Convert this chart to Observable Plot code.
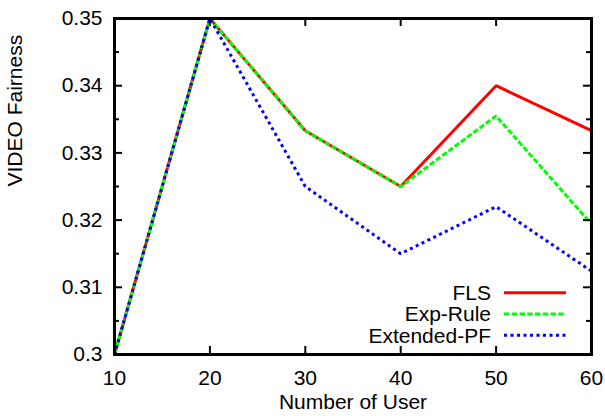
<!DOCTYPE html>
<html>
<head>
<meta charset="utf-8">
<script src="https://cdn.jsdelivr.net/npm/d3@7"></script>
<script src="https://cdn.jsdelivr.net/npm/@observablehq/plot@0.6"></script>
<style>
  html, body { margin: 0; padding: 0; background: #fff; }
  #chart svg { display: block; }
</style>
</head>
<body>
<div id="chart"></div>
<script>
// ---- data ----
const users = [10, 20, 30, 40, 50, 60];
const flsValues = [0.300, 0.350, 0.3333, 0.325, 0.340, 0.3333];
const expRuleValues = [0.300, 0.350, 0.3333, 0.325, 0.3355, 0.3194];
const extendedPfValues = [0.300, 0.350, 0.325, 0.315, 0.322, 0.3124];
const seriesNames = ["FLS", "Exp-Rule", "Extended-PF"];
const xTickValues = [10, 20, 30, 40, 50, 60];
const yTickValues = [0.30, 0.31, 0.32, 0.33, 0.34, 0.35];
const yMinorTickValues = [0.305, 0.315, 0.325, 0.335, 0.345];
const xLabel = "Number of User";
const yLabel = "VIDEO Fairness";

// ---- styles ----
const seriesColors = ["#ff0000", "#00ff00", "#0000ff"];
const seriesDash = [null, "5.5,2.25", "3,3.5"];
const lineWidth = 3;
const fontFamily = "'Liberation Sans', Arial, Helvetica, sans-serif";
const fontSize = 21;

const width = 605, height = 416;
const margin = {left: 114, right: 14, top: 18, bottom: 62};
const W = width - margin.left - margin.right;
const H = height - margin.top - margin.bottom;

const seriesValues = [flsValues, expRuleValues, extendedPfValues];
const rows = seriesNames.flatMap((name, i) =>
  users.map((u, j) => ({series: name, users: u, value: seriesValues[i][j]}))
);

const majorLen = 8, minorLen = 5, tickWidth = 2;

function legendMark(index, scales, values, dims) {
  const right = dims.width - dims.marginRight;
  const bottom = dims.height - dims.marginBottom;
  const g = d3.create("svg:g");
  seriesNames.forEach((name, i) => {
    const y = bottom - 61.3 + i * 21.3;
    g.append("text")
      .attr("x", right - 100)
      .attr("y", y)
      .attr("dy", "0.35em")
      .attr("text-anchor", "end")
      .attr("font-family", fontFamily)
      .attr("font-size", fontSize)
      .attr("fill", "#000")
      .text(name);
    g.append("line")
      .attr("x1", right - 87)
      .attr("x2", right - 25)
      .attr("y1", y)
      .attr("y2", y)
      .attr("stroke", seriesColors[i])
      .attr("stroke-width", lineWidth)
      .attr("stroke-dasharray", seriesDash[i]);
  });
  return g.node();
}

const fmt = d => String(+d.toFixed(2));

const plot = Plot.plot({
  width, height,
  marginLeft: margin.left, marginRight: margin.right,
  marginTop: margin.top, marginBottom: margin.bottom,
  style: {fontFamily, fontSize: fontSize + "px", background: "#fff", color: "#000"},
  x: {domain: [10, 60]},
  y: {domain: [0.3, 0.35]},
  marks: [
    // series lines (drawn in gnuplot order)
    ...seriesNames.map((name, i) =>
      Plot.line(rows.filter(d => d.series === name), {
        x: "users", y: "value",
        stroke: seriesColors[i],
        strokeWidth: lineWidth,
        strokeDasharray: seriesDash[i],
        strokeLinejoin: "miter",
        strokeLinecap: "butt"
      })
    ),
    // inward ticks
    Plot.tickY(yTickValues, {y: d => d, insetRight: W - majorLen, strokeWidth: tickWidth}),
    Plot.tickY(yTickValues, {y: d => d, insetLeft: W - majorLen, strokeWidth: tickWidth}),
    Plot.tickY(yMinorTickValues, {y: d => d, insetRight: W - minorLen, strokeWidth: tickWidth}),
    Plot.tickY(yMinorTickValues, {y: d => d, insetLeft: W - minorLen, strokeWidth: tickWidth}),
    Plot.tickX(xTickValues, {x: d => d, insetTop: H - majorLen, strokeWidth: tickWidth}),
    Plot.tickX(xTickValues, {x: d => d, insetBottom: H - majorLen, strokeWidth: tickWidth}),
    Plot.frame({stroke: "#000", strokeWidth: 3}),
    // tick labels
    Plot.axisY(yTickValues, {tickSize: 0, tickPadding: 12, tickFormat: fmt, label: null, fontSize, fill: "#000"}),
    Plot.axisX(xTickValues, {tickSize: 0, tickPadding: 16, tickFormat: d => String(d), label: null, fontSize, fill: "#000"}),
    // axis titles
    Plot.text([xLabel], {frameAnchor: "bottom", dy: 54, text: d => d, fontSize, fill: "#000"}),
    Plot.text([yLabel], {frameAnchor: "left", dx: -99, rotate: -90, text: d => d, fontSize, fill: "#000"}),
    // legend
    legendMark
  ]
});

document.getElementById("chart").appendChild(plot);
</script>
</body>
</html>
